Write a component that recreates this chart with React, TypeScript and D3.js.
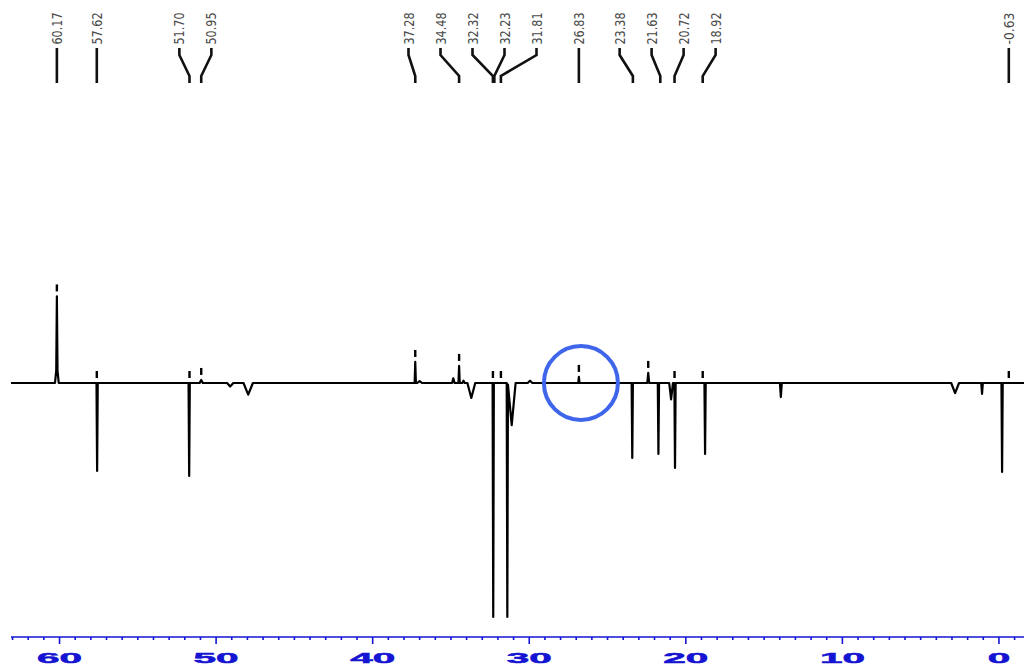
import React from "react";
import * as d3 from "d3";

// ---- data ----
// peak list: chemical shift (ppm), intensity (neg = down), half-width (ppm)
const peakPpm = [60.17, 60.17, 57.6, 51.72, 50.95, 49.1, 47.95, 37.28, 37.0, 34.85, 34.48, 34.2, 33.7, 32.3, 31.4, 31.12, 29.95, 26.83, 23.42, 22.4, 21.75, 20.94, 20.69, 18.77, 13.93, 2.8, 1.08, -0.2];
const peakInt = [29, 8, -37.6, -39.7, 1.3, -1.5, -5, 9, 0.8, 2, 7.3, 1, -6.4, -100, -100, -18, 1, 2.6, -32, 4.3, -30.3, -7, -36.3, -30.3, -6, -4.3, -4.7, -38];
const peakWid = [0.04, 0.12, 0.04, 0.04, 0.1, 0.2, 0.3, 0.04, 0.15, 0.08, 0.04, 0.08, 0.25, 0.04, 0.04, 0.25, 0.15, 0.04, 0.04, 0.06, 0.04, 0.12, 0.04, 0.04, 0.06, 0.25, 0.05, 0.04];

// picked-peak labels
const labelPpm = [60.17, 57.62, 51.70, 50.95, 37.28, 34.48, 32.32, 32.23, 31.81, 26.83, 23.38, 21.63, 20.72, 18.92, -0.63];
const labelText = ["60.17", "57.62", "51.70", "50.95", "37.28", "34.48", "32.32", "32.23", "31.81", "26.83", "23.38", "21.63", "20.72", "18.92", "-0.63"];
// peak-pick marker dashes
const markerPpm = [60.17, 57.62, 51.70, 50.95, 37.28, 34.48, 32.32, 31.81, 26.83, 22.4, 20.72, 18.92, -0.63];

const majorTicks = [60, 50, 40, 30, 20, 10, 0];
const highlightPpm = 26.7;

const W = 1024;
const H = 666;

function trace(p: number): number {
  let s = 0;
  for (let i = 0; i < peakPpm.length; i++) {
    const d = Math.abs(p - peakPpm[i]) / peakWid[i];
    if (d < 1) s += peakInt[i] * (1 - d);
  }
  return s;
}

export default function App() {
  const x = d3.scaleLinear().domain([63.1, -1.6]).range([11, 1024]);
  const y = d3.scaleLinear().domain([0, -100]).range([383, 617]);

  const knots: number[] = [63.1, -1.6];
  peakPpm.forEach((p, i) => {
    knots.push(p - peakWid[i], p, p + peakWid[i]);
  });
  knots.sort((a, b) => b - a);
  const pts: [number, number][] = knots.map((k) => [k, trace(k)]);
  const line = d3
    .line<[number, number]>()
    .x((d) => x(d[0]))
    .y((d) => y(d[1]));

  // label layout: spread overlapping labels around cluster mean
  const spacing = 32;
  const peakX = labelPpm.map((p) => x(p));
  const groups = peakX.map((px, i) => ({ idx: [i], center: px }));
  let changed = true;
  while (changed) {
    changed = false;
    for (let g = 0; g < groups.length - 1; g++) {
      const a = groups[g];
      const b = groups[g + 1];
      const aEnd = a.center + ((a.idx.length - 1) * spacing) / 2;
      const bStart = b.center - ((b.idx.length - 1) * spacing) / 2;
      if (bStart - aEnd < spacing) {
        const idx = a.idx.concat(b.idx);
        const center = d3.mean(idx, (i) => peakX[i]) as number;
        groups.splice(g, 2, { idx, center });
        changed = true;
        break;
      }
    }
  }
  const labelX: number[] = new Array(labelPpm.length);
  groups.forEach((g) => {
    g.idx.forEach((i, k) => {
      labelX[i] = g.center + (k - (g.idx.length - 1) / 2) * spacing;
    });
  });

  const minorTicks = d3.range(63, -2, -1);
  const axisY = 637;
  const blue = "#1414d2";

  return (
    <div style={{ position: "fixed", left: 0, top: 0 }}>
      <svg width={W} height={H} style={{ display: "block", background: "#fff" }}>
        {labelPpm.map((p, i) => (
          <g key={"l" + i}>
            <text
              transform={`translate(${labelX[i]},28.5) rotate(-90)`}
              textAnchor="middle"
              dominantBaseline="central"
              fontFamily="'Liberation Sans Narrow','DejaVu Sans Condensed','DejaVu Sans',sans-serif"
              fontSize={14}
              fill="#4a4a4a"
              textLength={32}
              lengthAdjust="spacingAndGlyphs"
            >
              {labelText[i]}
            </text>
            <path
              d={`M${labelX[i]},48 L${labelX[i]},55 L${peakX[i]},76 L${peakX[i]},83`}
              fill="none"
              stroke="#111"
              strokeWidth={2.6}
            />
          </g>
        ))}

        <path d={line(pts) || ""} fill="none" stroke="#000" strokeWidth={2.2} strokeLinejoin="round" />

        {markerPpm.map((p, i) => {
          const tip = y(Math.max(0, trace(p)));
          return (
            <line key={"m" + i} x1={x(p)} x2={x(p)} y1={tip - 12} y2={tip - 5} stroke="#000" strokeWidth={2.4} />
          );
        })}

        <circle cx={x(highlightPpm)} cy={y(0)} r={37} fill="none" stroke="#3f66ea" strokeWidth={4} />

        <line x1={11} x2={1024} y1={axisY} y2={axisY} stroke={blue} strokeWidth={1.6} />
        {minorTicks.map((t) => (
          <line key={"t" + t} x1={x(t)} x2={x(t)} y1={axisY} y2={axisY + (t % 10 === 0 ? 7 : 3)} stroke={blue} strokeWidth={1.6} />
        ))}
        {majorTicks.map((t) => (
          <text
            key={"a" + t}
            transform={`translate(${x(t)},663) scale(2.7,1)`}
            textAnchor="middle"
            fontFamily="'Liberation Sans',Arial,sans-serif"
            fontWeight="bold"
            fontSize={15}
            fill={blue}
            stroke={blue}
            strokeWidth={0.5}
          >
            {t}
          </text>
        ))}
      </svg>
    </div>
  );
}
